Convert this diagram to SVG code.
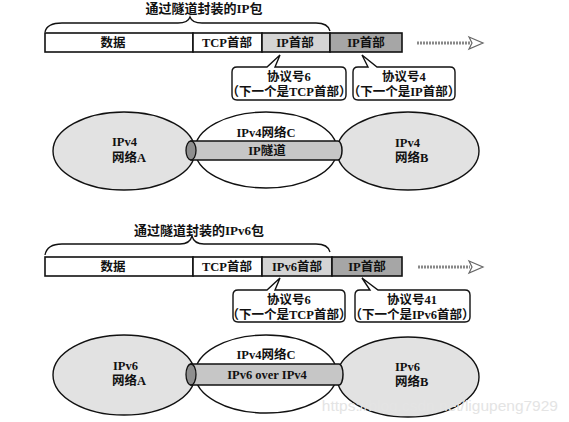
<svg xmlns="http://www.w3.org/2000/svg" width="569" height="422" viewBox="0 0 569 422">
<defs>
<style>
text{font-family:"Liberation Serif","Noto Sans CJK SC",serif;fill:#111;text-anchor:middle;font-weight:bold}
.t{font-size:13px}
.s{font-size:12.5px}
.seg{stroke:#111;stroke-width:1.6}
.w{fill:#fff}
.lg{fill:#d4d4d4}
.dg{fill:#a6a6a6}
.brace{fill:none;stroke:#111;stroke-width:1.3}
.call{fill:#fff;stroke:#111;stroke-width:1.4}
.net{fill:#e2e2e2;stroke:#111;stroke-width:1.4}
.netc{fill:#fff;stroke:#111;stroke-width:1.4}
.tun{fill:#c6c6c6;stroke:#111;stroke-width:1.5}
.cap{fill:#8e8e8e;stroke:#111;stroke-width:1.3}
.shaft{stroke:#888;stroke-width:3;stroke-dasharray:2 1}
.head{fill:#fff;stroke:#666;stroke-width:1.2}
.l{text-anchor:start}
</style>
</defs>

<!-- ===== Top: IPv4 tunnel ===== -->
<g id="title1"><text class="t" x="204" y="13">通过隧道封装的IP包</text></g>
<g id="brace1"><path class="brace" d="M45,32 Q47,23 62,23 H178 Q188,23 190,17 Q192,23 202,23 H316 Q328,23 330,31"/></g>
<g id="packet1">
<rect class="seg w" x="45" y="33" width="148" height="19"/>
<rect class="seg w" x="193" y="33" width="69" height="19"/>
<rect class="seg lg" x="262" y="33" width="68" height="19"/>
<rect class="seg dg" x="330" y="33" width="72" height="19"/>
<text class="s" x="113" y="47">数据</text>
<text class="s" x="227" y="47">TCP首部</text>
<text class="s" x="295" y="47">IP首部</text>
<text class="s" x="366" y="47">IP首部</text>
</g>
<g id="arrow1"><line class="shaft" x1="417" y1="43" x2="470" y2="43"/><polygon class="head" points="469,37 483,43 469,49 472,43"/></g>
<g id="callout1a">
<path class="call" d="M237,67 H267 L280,55 L275,67 H341 Q346,67 346,72 V95 Q346,100 341,100 H237 Q232,100 232,95 V72 Q232,67 237,67 Z"/>
<text class="s" x="289" y="81">协议号6</text>
<text class="s" x="289" y="96">（下一个是TCP首部）</text>
</g>
<g id="callout1b">
<path class="call" d="M358,67 H368 L362,55 L377,67 H450 Q455,67 455,72 V95 Q455,100 450,100 H358 Q353,100 353,95 V72 Q353,67 358,67 Z"/>
<text class="s" x="404" y="81">协议号4</text>
<text class="s" x="404" y="96">（下一个是IP首部）</text>
</g>
<g id="netA1"><ellipse class="net" cx="124" cy="151" rx="71" ry="39"/><text class="s l" x="112" y="146">IPv4</text><text class="s l" x="112" y="162">网络A</text></g>
<g id="netB1"><ellipse class="net" cx="408" cy="151" rx="71" ry="39"/><text class="s l" x="395" y="147">IPv4</text><text class="s l" x="395" y="162">网络B</text></g>
<g id="netC1"><ellipse class="netc" cx="266" cy="150" rx="71" ry="38"/><text class="s" x="266" y="137">IPv4网络C</text></g>
<g id="tunnel1">
<path class="tun" d="M191,141 H338 A4,9.5 0 0 1 338,160 H191 Z"/>
<ellipse class="cap" cx="191" cy="150.5" rx="5" ry="9.5"/>
<text class="s" x="267" y="155">IP隧道</text>
</g>

<!-- ===== Bottom: IPv6 over IPv4 ===== -->
<g id="title2"><text class="t" x="199" y="235">通过隧道封装的IPv6包</text></g>
<g id="brace2"><path class="brace" d="M45,255 Q47,244 62,244 H180 Q190,244 192,236 Q194,244 204,244 H316 Q328,244 330,252"/></g>
<g id="packet2">
<rect class="seg w" x="45" y="257" width="148" height="19"/>
<rect class="seg w" x="193" y="257" width="69" height="19"/>
<rect class="seg lg" x="262" y="257" width="70" height="19"/>
<rect class="seg dg" x="332" y="257" width="70" height="19"/>
<text class="s" x="113" y="271">数据</text>
<text class="s" x="227" y="271">TCP首部</text>
<text class="s" x="297" y="271">IPv6首部</text>
<text class="s" x="367" y="271">IP首部</text>
</g>
<g id="arrow2"><line class="shaft" x1="418" y1="267" x2="470" y2="267"/><polygon class="head" points="469,261 483,267 469,273 472,267"/></g>
<g id="callout2a">
<path class="call" d="M238,290 H267 L280,278 L275,290 H340 Q345,290 345,295 V317 Q345,322 340,322 H238 Q233,322 233,317 V295 Q233,290 238,290 Z"/>
<text class="s" x="289" y="304">协议号6</text>
<text class="s" x="289" y="319">（下一个是TCP首部）</text>
</g>
<g id="callout2b">
<path class="call" d="M360,290 H370 L362,278 L378,290 H465 Q470,290 470,295 V317 Q470,322 465,322 H360 Q355,322 355,317 V295 Q355,290 360,290 Z"/>
<text class="s" x="412" y="304">协议号41</text>
<text class="s" x="412" y="319">（下一个是IPv6首部）</text>
</g>
<g id="netA2"><ellipse class="net" cx="124" cy="375" rx="71" ry="40"/><text class="s l" x="113" y="370">IPv6</text><text class="s l" x="112" y="385">网络A</text></g>
<g id="netB2"><ellipse class="net" cx="408" cy="377" rx="71" ry="40"/><text class="s l" x="395" y="371">IPv6</text><text class="s l" x="395" y="386">网络B</text></g>
<g id="netC2"><ellipse class="netc" cx="266" cy="374" rx="71" ry="39"/><text class="s" x="266" y="359">IPv4网络C</text></g>
<g id="tunnel2">
<path class="tun" d="M191,364 H339 A4,10.5 0 0 1 339,385 H191 Z"/>
<ellipse class="cap" cx="191" cy="374.5" rx="5" ry="10.5"/>
<text class="s" x="267" y="379">IPv6 over IPv4</text>
</g>
<text x="558" y="411" style="font-family:'Liberation Sans',sans-serif;font-size:15.5px;fill:#e4e4e4;text-anchor:end;font-weight:normal">https://blog.csdn.net/ligupeng7929</text>
</svg>
